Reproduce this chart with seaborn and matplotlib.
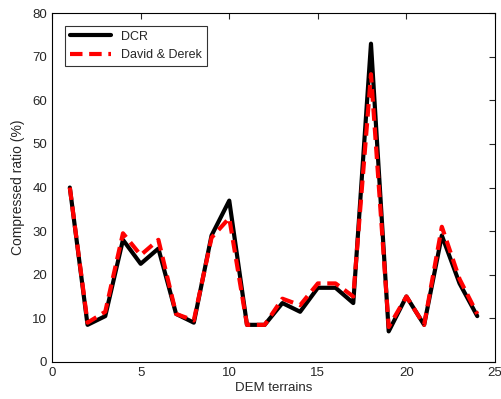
import numpy as np
import pandas as pd
import matplotlib
matplotlib.use("Agg")
import matplotlib.pyplot as plt
import seaborn as sns

# data
terrains = list(range(1, 25))
dcr = [40, 8.5, 10.5, 28, 22.5, 26, 11, 9, 29, 37, 8.5, 8.5,
       13.5, 11.5, 17, 17, 13.5, 73, 7, 15, 8.5, 29, 18, 10.5]
david_derek = [40, 9, 11.5, 29.5, 24.5, 28, 11, 9.5, 28.5, 33, 8.5, 8.5,
               14.5, 13, 18, 18, 15, 66, 8, 15, 8.5, 31, 19, 11]

df = pd.DataFrame({"x": terrains * 2,
                   "y": dcr + david_derek,
                   "method": ["DCR"] * 24 + ["David & Derek"] * 24})

sns.set_style("white")
plt.rcParams["font.family"] = ["Liberation Sans", "DejaVu Sans"]

fig = plt.figure(figsize=(5.01, 3.99), dpi=100)
ax = fig.add_axes([0.104, 0.093, 0.884, 0.874])

sns.lineplot(data=df, x="x", y="y", hue="method", style="method",
             palette={"DCR": "black", "David & Derek": "red"},
             dashes={"DCR": "", "David & Derek": (3, 1.6)},
             linewidth=3, ax=ax)

ax.set_xlim(0, 25)
ax.set_ylim(0, 80)
ax.set_xticks(range(0, 26, 5))
ax.set_yticks(range(0, 81, 10))
ax.tick_params(direction="in", top=True, right=True, labelsize=9.5, length=4)
for s in ax.spines.values():
    s.set_linewidth(0.8)
    s.set_color("black")
ax.set_xlabel("DEM terrains", fontsize=9.5, labelpad=2)
ax.set_ylabel("Compressed ratio (%)", fontsize=10, labelpad=5)

leg = ax.legend(loc="upper left", fontsize=9, frameon=True, fancybox=False,
                edgecolor="black", handlelength=3.3, borderaxespad=1.0,
                bbox_to_anchor=(0.0, 1.0))
leg.get_frame().set_linewidth(0.8)

fig.savefig("out.png", dpi=100)
